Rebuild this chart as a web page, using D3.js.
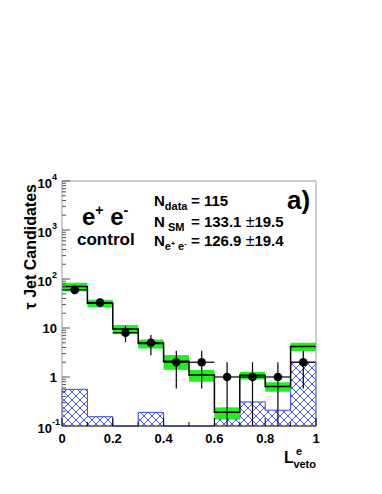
<html>
<head>
<script src="https://cdn.jsdelivr.net/npm/d3@7"></script>
<style>
body{ margin:0; background:#fff; }
text{ font-family:"Liberation Sans", Arial, sans-serif; font-weight:bold; fill:#000; }
</style>
</head>
<body>
<div id="chart"></div>
<script>
// bin edges 0..1, 10 bins
var binLo   = [0, 0.1, 0.2, 0.3, 0.4, 0.5, 0.6, 0.7, 0.8, 0.9];
var dataN   = [60, 33, 8, 5, 2, 2, 1, 1, 1, 2];
var mcTotal = [70, 32, 9.5, 4.8, 2.1, 1.1, 0.19, 1.08, 0.64, 4.2];
var mcErr   = [14, 5.7, 2, 1, 0.7, 0.3, 0.05, 0.19, 0.14, 0.8];
var other   = [0.56, 0.155, 0, 0.19, 0, 0, 0.14, 0.31, 0.21, 2.0];
var yTicks    = [0.1, 1, 10, 100, 1000, 10000];
var yTickBase = ["10", "1", "10", "10", "10", "10"];
var yTickExp  = ["-1", "", "", "2", "3", "4"];
var xTicks    = [0, 0.2, 0.4, 0.6, 0.8, 1];
var xTickLab  = ["0", "0.2", "0.4", "0.6", "0.8", "1"];
var binW = 0.1;

var W = 382, H = 494,
    x0 = 62, x1 = 316, yTop = 181, yBot = 426;

var x = d3.scaleLinear().domain([0, 1]).range([x0, x1]);
var y = d3.scaleLog().domain([0.1, 10000]).range([yBot, yTop]).clamp(true);
function yv(v) { return v > 0 ? y(v) : yBot; }

var svg = d3.select('#chart').append('svg')
    .attr('width', W).attr('height', H);

var defs = svg.append('defs');
var pat = defs.append('pattern').attr('id', 'hatch')
    .attr('patternUnits', 'userSpaceOnUse')
    .attr('width', 8).attr('height', 8);
pat.append('path').attr('d', 'M0,0L8,8M0,8L8,0M-1,7L1,9M7,-1L9,1M-1,1L1,-1M7,9L9,7')
    .attr('stroke', '#3344ff').attr('stroke-width', 0.9);

// hatched histogram
var plot = svg.append('g');
plot.selectAll('rect.oth').data(binLo).enter().append('rect')
    .attr('class', 'oth')
    .attr('x', function(d) { return x(d); })
    .attr('width', x(binW) - x(0))
    .attr('y', function(d, i) { return yv(other[i]); })
    .attr('height', function(d, i) { return yBot - yv(other[i]); })
    .attr('fill', 'url(#hatch)');

function stepPath(vals, dropEnds) {
    var p = d3.path();
    vals.forEach(function(v, i) {
        var xa = x(binLo[i]), xb = x(binLo[i] + binW), yy = yv(v);
        if (i == 0) {
            if (dropEnds) { p.moveTo(xa, yBot); p.lineTo(xa, yy); }
            else p.moveTo(xa, yy);
        } else p.lineTo(xa, yy);
        p.lineTo(xb, yy);
    });
    if (dropEnds) p.lineTo(x(1), yBot);
    return p.toString();
}
plot.append('path').attr('d', stepPath(other, true))
    .attr('fill', 'none').attr('stroke', '#3344ff').attr('stroke-width', 1);

// MC error band
plot.selectAll('rect.band').data(binLo).enter().append('rect')
    .attr('class', 'band')
    .attr('x', function(d) { return x(d); })
    .attr('width', x(binW) - x(0))
    .attr('y', function(d, i) { return y(mcTotal[i] + mcErr[i]); })
    .attr('height', function(d, i) { return y(mcTotal[i] - mcErr[i]) - y(mcTotal[i] + mcErr[i]); })
    .attr('fill', '#1fee1f');

// MC line
plot.append('path').attr('d', stepPath(mcTotal, false))
    .attr('fill', 'none').attr('stroke', '#000').attr('stroke-width', 1.5);

// data points
var pts = plot.selectAll('g.pt').data(dataN).enter().append('g').attr('class', 'pt');
pts.append('line')
    .attr('x1', function(d, i) { return x(binLo[i]); })
    .attr('x2', function(d, i) { return x(binLo[i] + binW); })
    .attr('y1', function(d) { return y(d); })
    .attr('y2', function(d) { return y(d); })
    .attr('stroke', '#000').attr('stroke-width', 1.2);
pts.append('line')
    .attr('x1', function(d, i) { return x(binLo[i] + binW / 2); })
    .attr('x2', function(d, i) { return x(binLo[i] + binW / 2); })
    .attr('y1', function(d) { return yv(d + Math.sqrt(d)); })
    .attr('y2', function(d) { return yv(d - Math.sqrt(d)); })
    .attr('stroke', '#000').attr('stroke-width', 1.2);
pts.append('circle')
    .attr('cx', function(d, i) { return x(binLo[i] + binW / 2); })
    .attr('cy', function(d) { return y(d); })
    .attr('r', 4.3).attr('fill', '#000');

// frame
svg.append('path').attr('d', 'M' + x0 + ',' + yBot + 'V' + yTop + 'H' + x1 + 'V' + yBot)
    .attr('fill', 'none').attr('stroke', '#999').attr('stroke-width', 1);
svg.append('line').attr('x1', x0).attr('x2', x1).attr('y1', yBot).attr('y2', yBot)
    .attr('stroke', '#000').attr('stroke-width', 1.2);

// y ticks
var yMinor = [];
for (var e = -1; e < 4; e++) for (var k = 2; k < 10; k++) yMinor.push(k * Math.pow(10, e));
svg.selectAll('line.ymin').data(yMinor).enter().append('line')
    .attr('x1', x0).attr('x2', x0 + 4)
    .attr('y1', function(d) { return y(d); }).attr('y2', function(d) { return y(d); })
    .attr('stroke', '#555').attr('stroke-width', 1);
svg.selectAll('line.ymaj').data(yTicks).enter().append('line')
    .attr('x1', x0).attr('x2', x0 + 8)
    .attr('y1', function(d) { return y(d); }).attr('y2', function(d) { return y(d); })
    .attr('stroke', '#555').attr('stroke-width', 1);
yTicks.forEach(function(t, i) {
    var yy = y(t);
    if (yTickExp[i]) {
        svg.append('text').attr('x', 52).attr('y', yy + 7)
            .attr('text-anchor', 'end').style('font-size', '13px').text(yTickBase[i]);
        svg.append('text').attr('x', 52).attr('y', yy - 1)
            .style('font-size', '9px').text(yTickExp[i]);
    } else {
        svg.append('text').attr('x', 57).attr('y', yy + 5)
            .attr('text-anchor', 'end').style('font-size', '13px').text(yTickBase[i]);
    }
});

// x ticks
var xMinor = d3.range(1, 10, 2).map(function(d) { return d / 10; });
svg.selectAll('line.xmin').data(xMinor).enter().append('line')
    .attr('x1', function(d) { return x(d); }).attr('x2', function(d) { return x(d); })
    .attr('y1', yBot).attr('y2', yBot - 4)
    .attr('stroke', '#000').attr('stroke-width', 1);
svg.selectAll('line.xmaj').data(xTicks).enter().append('line')
    .attr('x1', function(d) { return x(d); }).attr('x2', function(d) { return x(d); })
    .attr('y1', yBot).attr('y2', yBot - 8)
    .attr('stroke', '#000').attr('stroke-width', 1);
svg.selectAll('text.xl').data(xTicks).enter().append('text')
    .attr('x', function(d) { return x(d); }).attr('y', 443)
    .attr('text-anchor', 'middle').style('font-size', '13px')
    .text(function(d, i) { return xTickLab[i]; });

// axis titles
svg.append('text').attr('transform', 'translate(36,184) rotate(-90)')
    .attr('text-anchor', 'end').style('font-size', '16px').text('\u03c4 Jet Candidates');
svg.append('text').attr('x', 284).attr('y', 463).style('font-size', '16px').text('L');
svg.append('text').attr('x', 296).attr('y', 455).style('font-size', '11px').text('e');
svg.append('text').attr('x', 316).attr('y', 468).attr('text-anchor', 'end')
    .style('font-size', '11px').text('veto');

// labels in plot
var ee = svg.append('text').attr('x', 82).attr('y', 225).style('font-size', '24px');
ee.append('tspan').text('e');
ee.append('tspan').attr('dy', -10).style('font-size', '14px').text('+');
ee.append('tspan').attr('dy', 10).text(' e');
ee.append('tspan').attr('dy', -10).style('font-size', '14px').text('-');
svg.append('text').attr('x', 77).attr('y', 245).style('font-size', '17px').text('control');

var t1 = svg.append('text').attr('x', 154).attr('y', 206).style('font-size', '15px');
t1.append('tspan').text('N');
t1.append('tspan').attr('dy', 4).style('font-size', '11px').text('data');
var t2 = svg.append('text').attr('x', 154).attr('y', 227).style('font-size', '15px');
t2.append('tspan').text('N');
t2.append('tspan').attr('dy', 4).style('font-size', '11px').text(' SM');
var t3 = svg.append('text').attr('x', 154).attr('y', 246).style('font-size', '15px');
t3.append('tspan').text('N');
t3.append('tspan').attr('dy', 4).style('font-size', '11px').text('e');
t3.append('tspan').attr('dy', -4).style('font-size', '7px').text('+');
t3.append('tspan').attr('dy', 4).style('font-size', '11px').text(' e');
t3.append('tspan').attr('dy', -4).style('font-size', '7px').text('-');

function valText(yb, v, err) {
    var t = svg.append('text').attr('x', 191).attr('y', yb).style('font-size', '15px');
    t.append('tspan').text('= ' + v + ' ');
    if (err) {
        t.append('tspan').style('font-weight', 'normal').style('font-size', '16px').text('\u00b1');
        t.append('tspan').text(err);
    }
}
valText(206, '115', '');
valText(227, '133.1', '19.5');
valText(246, '126.9', '19.4');

svg.append('text').attr('x', 287).attr('y', 209).style('font-size', '26px').text('a)');
</script>
</body>
</html>
